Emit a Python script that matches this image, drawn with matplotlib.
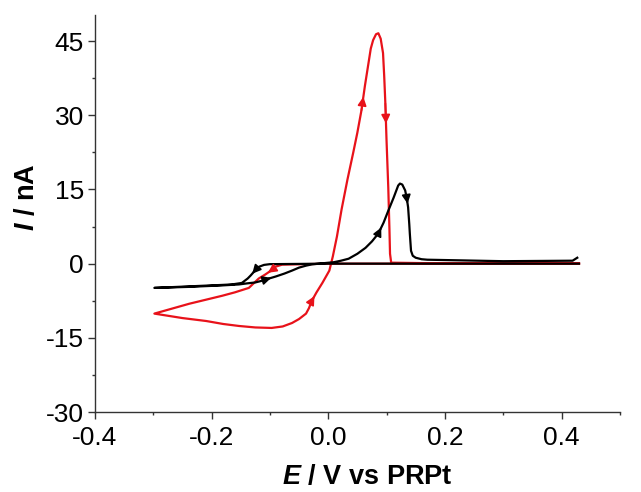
import matplotlib
matplotlib.use('Agg')
import matplotlib.pyplot as plt
from matplotlib.ticker import MultipleLocator

# red CV, scan starts at the positive end and goes negative first
red_E = [0.43, 0.2, 0.0, -0.079, -0.09, -0.098, -0.108, -0.119, -0.128, -0.136,
         -0.16, -0.182, -0.21, -0.238, -0.268, -0.298, -0.25, -0.209, -0.18, -0.153,
         -0.125, -0.097, -0.078, -0.062, -0.05, -0.038, -0.033, -0.028, -0.02, -0.01,
         0.002, 0.008, 0.015, 0.023, 0.033, 0.043, 0.05, 0.057, 0.063, 0.069,
         0.073, 0.077, 0.082, 0.086, 0.09, 0.094, 0.096, 0.098, 0.1, 0.103,
         0.105, 0.106, 0.108, 0.2, 0.43]
red_I = [0.0, 0.0, 0.0, -0.2, -0.6, -1.4, -2.2, -3.0, -4.0, -4.9,
         -5.8, -6.5, -7.3, -8.1, -9.1, -10.1, -11.0, -11.6, -12.2, -12.6,
         -12.9, -13.0, -12.7, -12.0, -11.2, -10.1, -9.0, -7.5, -5.8, -3.9,
         -1.4, 1.5, 5.5, 11.0, 17.0, 22.5, 26.5, 31.0, 36.0, 40.5,
         43.5, 45.2, 46.4, 46.6, 45.5, 42.6, 38.0, 32.4, 25.0, 15.4,
         7.0, 2.0, 0.2, 0.05, 0.05]

# black CV
black_E = [0.43, 0.3, 0.1, 0.0, -0.1, -0.11, -0.118, -0.123, -0.127, -0.133,
           -0.138, -0.148, -0.165, -0.182, -0.24, -0.298, -0.24, -0.182, -0.153, -0.14,
           -0.125, -0.115, -0.107, -0.09, -0.075, -0.062, -0.05, -0.038, -0.028, -0.016,
           0.01, 0.022, 0.035, 0.05, 0.064, 0.075, 0.086, 0.095, 0.103, 0.112,
           0.12, 0.123, 0.127, 0.132, 0.135, 0.137, 0.139, 0.14, 0.142, 0.145,
           0.15, 0.16, 0.17, 0.3, 0.419, 0.427]
black_I = [0.0, 0.0, 0.0, 0.0, -0.1, -0.25, -0.6, -1.0, -1.6, -2.4,
           -3.0, -3.9, -4.2, -4.3, -4.6, -4.9, -4.7, -4.4, -4.2, -4.0,
           -3.8, -3.5, -3.2, -2.6, -2.0, -1.4, -0.8, -0.4, -0.15, 0.0,
           0.3, 0.6, 1.0, 2.0, 3.2, 4.5, 6.1, 8.3, 10.7, 13.3,
           15.8, 16.2, 16.0, 14.8, 13.0, 11.4, 8.0, 6.0, 2.6, 1.6,
           1.2, 0.9, 0.8, 0.5, 0.6, 1.2]

# index of the segment that carries a direction arrow
red_arrows = [5, 27, 37, 47]
black_arrows = [8, 22, 36, 44]

plt.rcParams['font.family'] = ['Liberation Sans', 'DejaVu Sans']
plt.rcParams['mathtext.fontset'] = 'custom'
plt.rcParams['mathtext.it'] = 'Liberation Sans:italic:bold'
plt.rcParams['mathtext.rm'] = 'Liberation Sans:bold'

fig = plt.figure(figsize=(6.41, 4.92), dpi=100)
ax = fig.add_axes([0.148, 0.1626, 0.819, 0.807])

red = '#e8121a'
ax.plot(red_E, red_I, color=red, lw=1.6, zorder=2, solid_joinstyle='round')
ax.plot(black_E, black_I, color='black', lw=1.6, zorder=3, solid_joinstyle='round')


def add_arrows(E, I, idx, color):
    for i in idx:
        xm = E[i] + 0.55 * (E[i + 1] - E[i])
        ym = I[i] + 0.55 * (I[i + 1] - I[i])
        ax.annotate('', xy=(xm, ym), xytext=(E[i], I[i]),
                    arrowprops=dict(arrowstyle='-|>', color=color, lw=1.2,
                                    mutation_scale=13, shrinkA=0, shrinkB=0),
                    zorder=4)


add_arrows(red_E, red_I, red_arrows, red)
add_arrows(black_E, black_I, black_arrows, 'black')

ax.set_xlim(-0.4, 0.5)
ax.set_ylim(-30, 50.3)
ax.set_xticks([-0.4, -0.2, 0.0, 0.2, 0.4])
ax.set_yticks([-30, -15, 0, 15, 30, 45])
ax.xaxis.set_minor_locator(MultipleLocator(0.1))
ax.yaxis.set_minor_locator(MultipleLocator(7.5))
ax.set_xticklabels(['-0.4', '-0.2', '0.0', '0.2', '0.4'])
ax.set_yticklabels(['-30', '-15', '0', '15', '30', '45'])

for s in ['top', 'right']:
    ax.spines[s].set_visible(False)
for s in ['left', 'bottom']:
    ax.spines[s].set_linewidth(1.0)
    ax.spines[s].set_color('#333333')

ax.tick_params(which='major', direction='out', length=5, width=1.0,
               labelsize=19, color='#333333', pad=3)
ax.tick_params(axis='x', which='major', pad=5)
ax.tick_params(which='minor', direction='out', length=2.5, width=1.0, color='#333333')

ax.set_xlabel('$E$ / V vs PRPt', fontsize=19.5, fontweight='bold')
ax.set_ylabel('$I$ / nA', fontsize=19.5, fontweight='bold')
ax.xaxis.set_label_coords(0.518, -0.13)
ax.yaxis.set_label_coords(-0.105, 0.54)

fig.savefig('out.png', dpi=100)
